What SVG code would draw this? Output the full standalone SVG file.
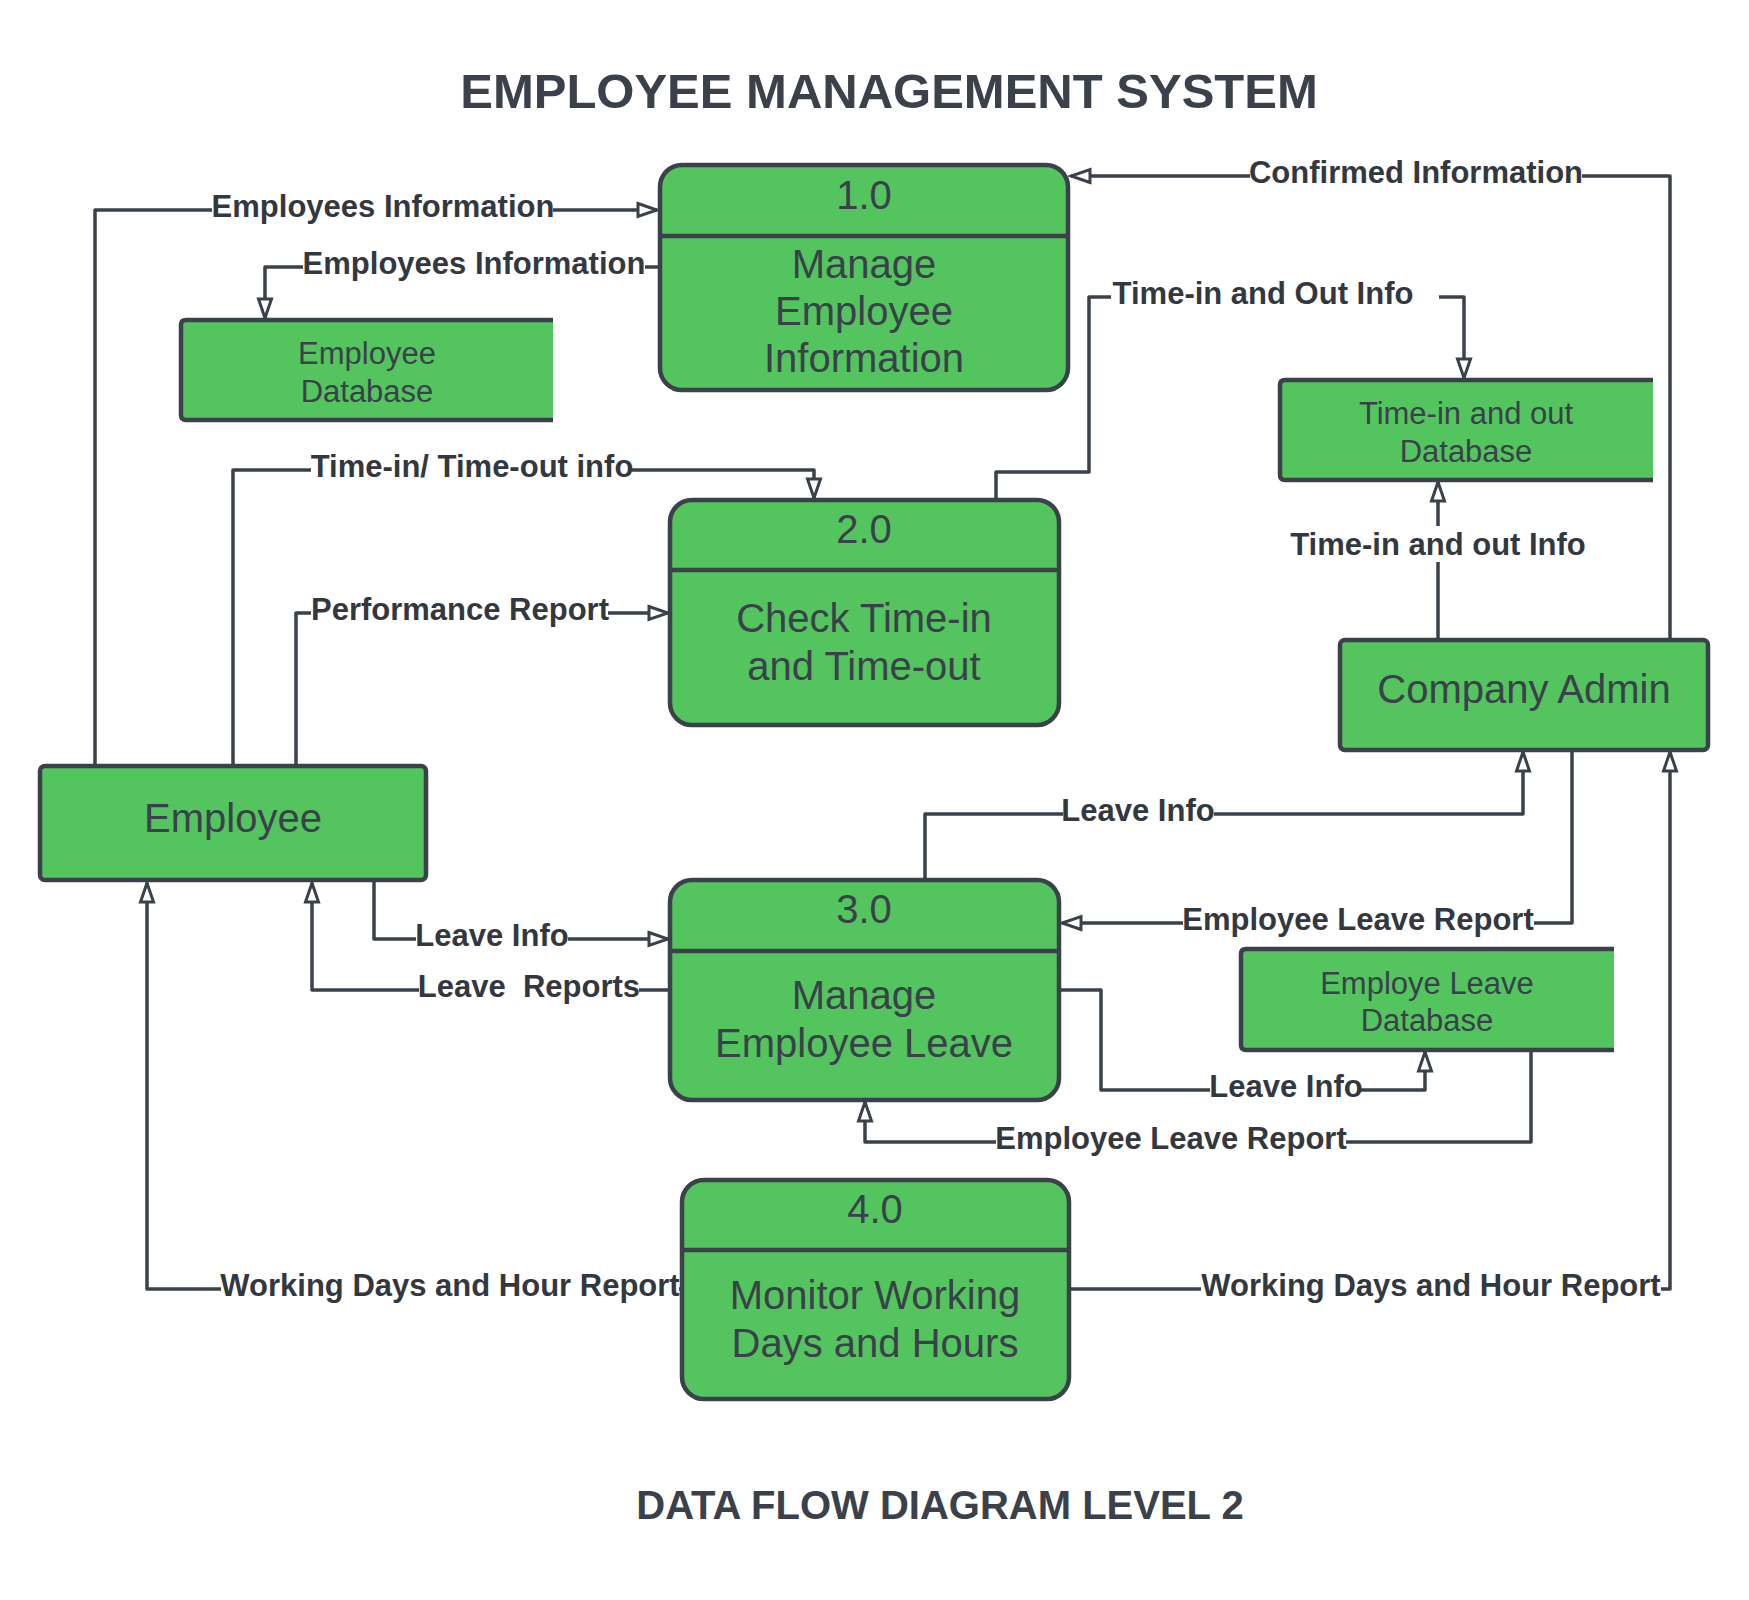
<svg xmlns="http://www.w3.org/2000/svg" width="1749" height="1600" viewBox="0 0 1749 1600">
<style>
.bg{fill:#ffffff}
.proc{fill:#54c45e;stroke:#3a414a;stroke-width:4.5}
.div{stroke:#3a414a;stroke-width:4.5;fill:none}
.ent{fill:#54c45e;stroke:#3a414a;stroke-width:4.5}
.dbf{fill:#54c45e;stroke:none}
.dbs{fill:none;stroke:#3a414a;stroke-width:4.5;stroke-linejoin:round}
.t{font-family:"Liberation Sans",Arial,sans-serif;fill:#3a414a;text-anchor:middle}
.big{font-size:40px}
.db{font-size:31px}
.lbl{font-family:"Liberation Sans",Arial,sans-serif;font-weight:bold;font-size:31px;fill:#33383f;text-anchor:middle}
.lb{fill:#ffffff}
.c{fill:none;stroke:#3a414a;stroke-width:3.5;stroke-linejoin:round}
.title{font-family:"Liberation Sans",Arial,sans-serif;font-weight:bold;fill:#3a414a;text-anchor:middle}
</style>
<defs>
<marker id="arr" viewBox="0 0 24 18" refX="21" refY="9" markerWidth="24" markerHeight="18" markerUnits="userSpaceOnUse" orient="auto">
<path d="M2,2.5 L21,9 L2,15.5 z" fill="#ffffff" stroke="#3a414a" stroke-width="3" stroke-linejoin="miter"/>
</marker>
</defs>
<rect class="bg" x="0" y="0" width="1749" height="1600"/>
<text class="title" x="889" y="108" font-size="49">EMPLOYEE MANAGEMENT SYSTEM</text>
<text class="title" x="940" y="1519" font-size="40">DATA FLOW DIAGRAM LEVEL 2</text>

<g id="connectors">
<path class="c" d="M95,766 V210 H657" marker-end="url(#arr)"/>
<path class="c" d="M660,267 H265 V318" marker-end="url(#arr)"/>
<path class="c" d="M233,766 V470 H814 V498" marker-end="url(#arr)"/>
<path class="c" d="M296,766 V613 H668" marker-end="url(#arr)"/>
<path class="c" d="M996,500 V472 H1089 V297 H1464 V378" marker-end="url(#arr)"/>
<path class="c" d="M1438,639 V482" marker-end="url(#arr)"/>
<path class="c" d="M1670,639 V176 H1071" marker-end="url(#arr)"/>
<path class="c" d="M925,879 V814 H1523 V752" marker-end="url(#arr)"/>
<path class="c" d="M1572,750 V923 H1062" marker-end="url(#arr)"/>
<path class="c" d="M374,881 V939 H668" marker-end="url(#arr)"/>
<path class="c" d="M669,990 H312 V883" marker-end="url(#arr)"/>
<path class="c" d="M1060,990 H1101 V1090 H1425 V1052" marker-end="url(#arr)"/>
<path class="c" d="M1531,1050 V1142 H865 V1102" marker-end="url(#arr)"/>
<path class="c" d="M681,1289 H147 V883" marker-end="url(#arr)"/>
<path class="c" d="M1069,1289 H1670 V752" marker-end="url(#arr)"/>

<rect class="lb" x="212" y="190" width="341" height="34"/>
<text class="lbl" x="383" y="217">Employees Information</text>
<rect class="lb" x="303" y="247" width="342" height="34"/>
<text class="lbl" x="474" y="274">Employees Information</text>
<rect class="lb" x="311" y="450" width="321" height="34"/>
<text class="lbl" x="472" y="477">Time-in/ Time-out info</text>
<rect class="lb" x="311" y="593" width="297" height="34"/>
<text class="lbl" x="460" y="620">Performance Report</text>
<rect class="lb" x="1111" y="277" width="328" height="34"/>
<text class="lbl" x="1263" y="304">Time-in and Out Info</text>
<rect class="lb" x="1290" y="526" width="295" height="36"/>
<text class="lbl" x="1438" y="555">Time-in and out Info</text>
<rect class="lb" x="1250" y="156" width="332" height="34"/>
<text class="lbl" x="1416" y="183">Confirmed Information</text>
<rect class="lb" x="1063" y="794" width="151" height="34"/>
<text class="lbl" x="1138" y="821">Leave Info</text>
<rect class="lb" x="1183" y="903" width="351" height="34"/>
<text class="lbl" x="1358" y="930">Employee Leave Report</text>
<rect class="lb" x="416" y="919" width="152" height="34"/>
<text class="lbl" x="492" y="946">Leave Info</text>
<rect class="lb" x="419" y="970" width="220" height="34"/>
<text class="lbl" x="529" y="997" xml:space="preserve">Leave  Reports</text>
<rect class="lb" x="1210" y="1070" width="151" height="34"/>
<text class="lbl" x="1286" y="1097">Leave Info</text>
<rect class="lb" x="996" y="1122" width="350" height="34"/>
<text class="lbl" x="1171" y="1149">Employee Leave Report</text>
<rect class="lb" x="221" y="1269" width="458" height="34"/>
<text class="lbl" x="450" y="1296">Working Days and Hour Report</text>
<rect class="lb" x="1201" y="1269" width="460" height="34"/>
<text class="lbl" x="1431" y="1296">Working Days and Hour Report</text>
</g>

<g id="p1">
<rect class="proc" x="660" y="165" width="408" height="225" rx="22"/>
<line class="div" x1="660" y1="236" x2="1068" y2="236"/>
<text class="t big" x="864" y="209">1.0</text>
<text class="t big" x="864" y="278">Manage</text>
<text class="t big" x="864" y="325">Employee</text>
<text class="t big" x="864" y="372">Information</text>
</g>

<g id="p2">
<rect class="proc" x="670" y="500" width="389" height="225" rx="22"/>
<line class="div" x1="670" y1="570" x2="1059" y2="570"/>
<text class="t big" x="864" y="543">2.0</text>
<text class="t big" x="864" y="632">Check Time-in</text>
<text class="t big" x="864" y="680">and Time-out</text>
</g>

<g id="p3">
<rect class="proc" x="670" y="880" width="389" height="220" rx="22"/>
<line class="div" x1="670" y1="951" x2="1059" y2="951"/>
<text class="t big" x="864" y="923">3.0</text>
<text class="t big" x="864" y="1009">Manage</text>
<text class="t big" x="864" y="1057">Employee Leave</text>
</g>

<g id="p4">
<rect class="proc" x="682" y="1180" width="387" height="219" rx="22"/>
<line class="div" x1="682" y1="1250" x2="1069" y2="1250"/>
<text class="t big" x="875" y="1223">4.0</text>
<text class="t big" x="875" y="1309">Monitor Working</text>
<text class="t big" x="875" y="1357">Days and Hours</text>
</g>

<g id="employee">
<rect class="ent" x="40" y="766" width="386" height="114" rx="5"/>
<text class="t big" x="233" y="832">Employee</text>
</g>

<g id="admin">
<rect class="ent" x="1340" y="640" width="368" height="110" rx="5"/>
<text class="t big" x="1524" y="703">Company Admin</text>
</g>

<g id="db-employee">
<rect class="dbf" x="181" y="320" width="372" height="100"/>
<path class="dbs" d="M553,320 H186 Q181,320 181,325 V415 Q181,420 186,420 H553"/>
<text class="t db" x="367" y="364">Employee</text>
<text class="t db" x="367" y="402">Database</text>
</g>

<g id="db-time">
<rect class="dbf" x="1280" y="380" width="373" height="100"/>
<path class="dbs" d="M1653,380 H1285 Q1280,380 1280,385 V475 Q1280,480 1285,480 H1653"/>
<text class="t db" x="1466" y="424">Time-in and out</text>
<text class="t db" x="1466" y="462">Database</text>
</g>

<g id="db-leave">
<rect class="dbf" x="1241" y="949" width="373" height="101"/>
<path class="dbs" d="M1614,949 H1246 Q1241,949 1241,954 V1045 Q1241,1050 1246,1050 H1614"/>
<text class="t db" x="1427" y="994">Employe Leave</text>
<text class="t db" x="1427" y="1031">Database</text>
</g>
</svg>
